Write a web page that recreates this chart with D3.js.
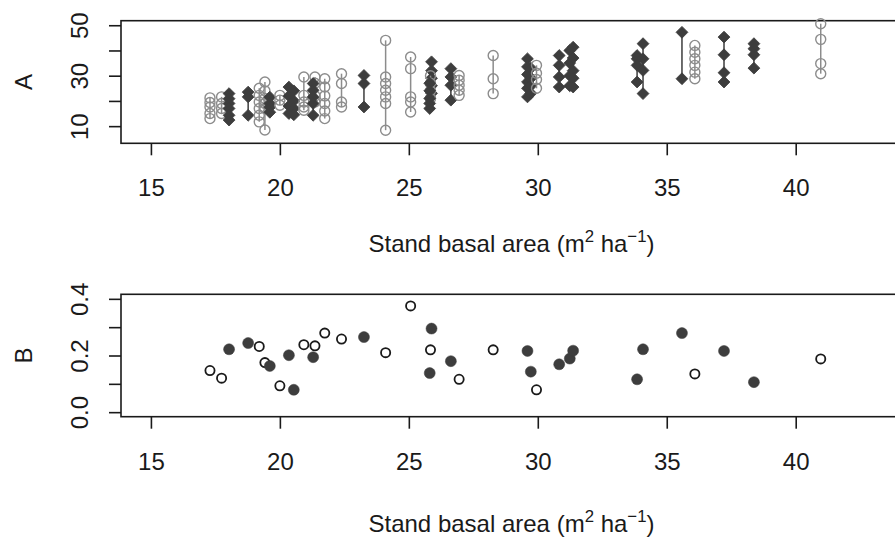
<!DOCTYPE html>
<html>
<head>
<meta charset="utf-8">
<script src="https://cdn.jsdelivr.net/npm/d3@7"></script>
<style>
  html, body { margin: 0; padding: 0; background: #fff; }
  svg { display: block; font-family: "Liberation Sans", Arial, sans-serif; }
</style>
</head>
<body>
<svg id="chart" width="895" height="537"></svg>
<script>
// ---- Data ----
// Stand basal area (m2 ha-1) for each stand
const basalArea = [17.29, 17.74, 18.03, 18.77, 19.20, 19.42, 19.61, 20.00, 20.35, 20.54,
  20.93, 21.36, 21.29, 21.74, 22.39, 23.26, 24.10, 25.07, 25.88, 25.84,
  25.81, 26.63, 26.95, 28.27, 29.60, 29.73, 29.95, 30.83, 31.24, 31.37,
  33.85, 34.08, 35.59, 36.09, 37.22, 38.38, 40.97];
// Group of each stand: "filled" or "open"
const standGroup = ["open", "open", "filled", "filled", "open", "open", "filled", "open", "filled", "filled",
  "open", "open", "filled", "open", "open", "filled", "open", "open", "filled", "open",
  "filled", "filled", "open", "open", "filled", "filled", "open", "filled", "filled", "filled",
  "filled", "filled", "filled", "open", "filled", "filled", "open"];
// Panel A: values of the individual points in each stand
const panelA = [
  [21.2, 19.4, 17.6, 15.0, 13.0],
  [21.6, 19.0, 17.0, 15.0],
  [22.9, 20.9, 19.0, 17.0, 14.3, 12.4],
  [23.5, 21.6, 14.3],
  [25.0, 22.2, 19.6, 17.0, 14.3, 11.7],
  [27.5, 24.0, 21.0, 19.0, 17.0, 8.5],
  [21.5, 19.0, 17.5, 15.5],
  [22.2, 20.3, 18.3],
  [25.5, 22.0, 18.0, 15.0],
  [24.0, 20.0, 17.0, 14.5],
  [29.5, 22.2, 19.6, 17.6, 16.3],
  [29.5, 27.0, 22.0, 19.6],
  [26.9, 24.2, 21.6, 19.0, 14.3],
  [28.8, 25.5, 22.0, 19.0, 16.0, 13.0],
  [30.8, 26.9, 19.6, 17.6],
  [30.1, 26.9, 17.6],
  [44.0, 29.5, 26.9, 24.2, 21.6, 19.0, 8.4],
  [37.4, 32.8, 21.6, 19.6, 15.6],
  [35.5, 32.0, 29.0, 26.0, 23.0],
  [30.0, 27.0, 24.0, 21.0],
  [27.0, 24.0, 21.0, 19.0, 17.0],
  [32.8, 29.5, 26.2, 20.3],
  [30.1, 28.2, 26.2, 24.2, 22.2],
  [38.0, 28.8, 22.9],
  [36.7, 33.5, 30.5, 27.5, 25.0, 21.6],
  [33.0, 29.0, 26.0, 23.0],
  [34.1, 31.0, 28.5, 25.0],
  [38.0, 34.1, 29.5, 25.5],
  [40.0, 35.0, 30.0, 26.0],
  [41.3, 37.0, 32.0, 29.0, 25.5],
  [38.0, 36.7, 34.1, 27.5],
  [42.7, 36.7, 32.1, 22.9],
  [47.2, 28.8],
  [42.0, 39.3, 36.7, 34.1, 31.4, 28.8],
  [45.3, 38.3, 31.2, 27.5],
  [42.7, 40.7, 38.3, 33.0],
  [50.6, 44.4, 34.8, 30.8]
];
// Panel B: one value per stand
const panelB = [0.147, 0.120, 0.222, 0.244, 0.232, 0.175, 0.163, 0.093, 0.201, 0.079,
  0.238, 0.234, 0.194, 0.279, 0.258, 0.265, 0.210, 0.375, 0.295, 0.220,
  0.138, 0.180, 0.116, 0.220, 0.216, 0.143, 0.079, 0.169, 0.189, 0.217,
  0.116, 0.222, 0.279, 0.135, 0.216, 0.106, 0.188];
// Axis ticks and labels
const xTicks = [15, 20, 25, 30, 35, 40];
const yTicksA = [10, 20, 30, 40, 50];
const yLabelsA = ["10", "", "30", "", "50"];
const yTicksB = [0, 0.1, 0.2, 0.3, 0.4];
const yLabelsB = ["0.0", "", "0.2", "", "0.4"];
const xTitle = "Stand basal area";
const panelNames = ["A", "B"];

// ---- Layout ----
const svg = d3.select("#chart");
svg.append("rect").attr("width", 895).attr("height", 537).attr("fill", "#fff");

const FONT = 24;
const dark = "#3d3d3d";
const grey = "#8c8c8c";
const boxLeft = 121, boxRight = 903;

const x = d3.scaleLinear().domain([13.84, 44.16]).range([boxLeft, boxRight]);
const yA = d3.scaleLinear().domain([3.2, 51.8]).range([143.3, 20.7]);
const yB = d3.scaleLinear().domain([-0.016, 0.416]).range([416.7, 294.3]);

function frame(yScale, yTicks, yLabels, name, titleBaseline) {
  const [yb, yt] = yScale.range();
  // box
  svg.append("rect")
    .attr("x", boxLeft).attr("y", yt)
    .attr("width", boxRight - boxLeft).attr("height", yb - yt)
    .attr("fill", "none").attr("stroke", "#1a1a1a").attr("stroke-width", 1.6);

  // y axis
  const ya = svg.append("g").attr("transform", `translate(${boxLeft},0)`)
    .call(d3.axisLeft(yScale).tickValues(yTicks).tickSize(12).tickSizeOuter(0)
      .tickFormat((d, i) => yLabels[i]));
  ya.select(".domain").remove();
  ya.selectAll(".tick line").attr("stroke", "#1a1a1a").attr("stroke-width", 1.6);
  ya.selectAll(".tick text")
    .attr("x", 0).attr("y", 0).attr("dy", 0)
    .attr("text-anchor", "middle")
    .attr("transform", "translate(-33.5,0) rotate(-90)")
    .attr("font-size", FONT).attr("font-family", "Liberation Sans, Arial, sans-serif")
    .attr("fill", "#1a1a1a");

  // x axis
  const xa = svg.append("g").attr("transform", `translate(0,${yb})`)
    .call(d3.axisBottom(x).tickValues(xTicks).tickSize(12).tickSizeOuter(0));
  xa.select(".domain").remove();
  xa.selectAll(".tick line").attr("stroke", "#1a1a1a").attr("stroke-width", 1.6);
  xa.selectAll(".tick text")
    .attr("y", 53.2).attr("dy", 0)
    .attr("font-size", FONT).attr("font-family", "Liberation Sans, Arial, sans-serif")
    .attr("fill", "#1a1a1a");

  // panel name (rotated)
  svg.append("text")
    .attr("transform", `translate(32,${(yb + yt) / 2}) rotate(-90)`)
    .attr("text-anchor", "middle")
    .attr("font-size", FONT).attr("fill", "#1a1a1a")
    .text(name);

  // x title with superscripts
  const t = svg.append("text")
    .attr("x", 511.5).attr("y", titleBaseline)
    .attr("text-anchor", "middle")
    .attr("font-size", FONT).attr("fill", "#1a1a1a");
  t.append("tspan").text(xTitle + " (m");
  t.append("tspan").attr("font-size", FONT * 0.7).attr("dy", -10).text("2");
  t.append("tspan").attr("dy", 10).text(" ha");
  t.append("tspan").attr("font-size", FONT * 0.7).attr("dy", -10).text("\u22121");
  t.append("tspan").attr("dy", 10).text(")");
}

frame(yA, yTicksA, yLabelsA, panelNames[0], 251.5);
frame(yB, yTicksB, yLabelsB, panelNames[1], 531.5);

// ---- Panel A ----
const gA = svg.append("g");
const standsA = basalArea.map((b, i) => ({ x: b, group: standGroup[i], vals: panelA[i] }));

const sg = gA.selectAll("g.stand").data(standsA).join("g").attr("class", "stand");
sg.append("line")
  .attr("x1", d => x(d.x)).attr("x2", d => x(d.x))
  .attr("y1", d => yA(d3.min(d.vals))).attr("y2", d => yA(d3.max(d.vals)))
  .attr("stroke", d => d.group === "filled" ? dark : grey)
  .attr("stroke-width", 1.5);

const diamond = d3.symbol(d3.symbolSquare).size(70)();
sg.each(function (d) {
  const g = d3.select(this);
  const pts = d.vals.map(v => ({ x: d.x, v }));
  if (d.group === "filled") {
    g.selectAll("path.pt").data(pts).join("path").attr("class", "pt")
      .attr("d", diamond)
      .attr("transform", p => `translate(${x(p.x)},${yA(p.v)}) rotate(45)`)
      .attr("fill", dark).attr("stroke", dark).attr("stroke-width", 0.8)
      .attr("stroke-linejoin", "round");
  } else {
    g.selectAll("circle.pt").data(pts).join("circle").attr("class", "pt")
      .attr("cx", p => x(p.x)).attr("cy", p => yA(p.v)).attr("r", 5)
      .attr("fill", "none").attr("stroke", grey).attr("stroke-width", 1.4);
  }
});

// ---- Panel B ----
const gB = svg.append("g");
const standsB = basalArea.map((b, i) => ({ x: b, group: standGroup[i], v: panelB[i] }));
gB.selectAll("circle.pb").data(standsB).join("circle").attr("class", "pb")
  .attr("cx", d => x(d.x)).attr("cy", d => yB(d.v))
  .attr("r", d => d.group === "filled" ? 5.5 : 4.6)
  .attr("fill", d => d.group === "filled" ? dark : "#fff")
  .attr("stroke", d => d.group === "filled" ? dark : "#1a1a1a")
  .attr("stroke-width", d => d.group === "filled" ? 0.5 : 1.8);
</script>
</body>
</html>
